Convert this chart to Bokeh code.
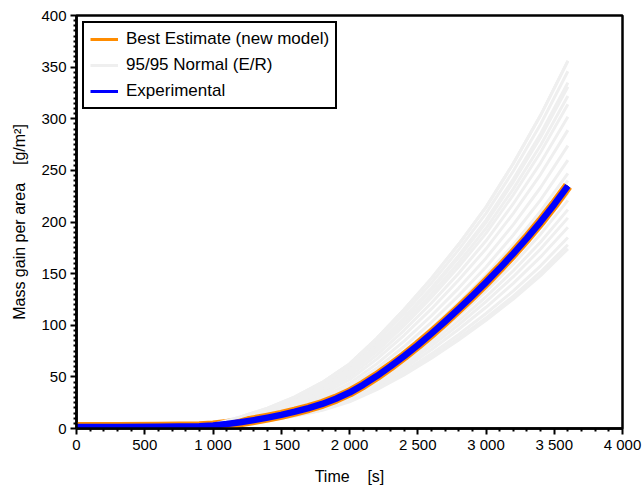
from bokeh.plotting import figure
from bokeh.models import Legend, LegendItem, FixedTicker, Range1d
from bokeh.embed import file_html
from bokeh.resources import INLINE

# ---------------- data ----------------
time_main = [0, 300, 600, 900, 1000, 1100, 1200, 1300, 1400, 1500, 1600, 1700, 1800,
             1900, 2000, 2100, 2200, 2300, 2400, 2500, 2600, 2700, 2800, 2900,
             3000, 3100, 3200, 3300, 3400, 3500, 3600]
best_estimate = [1.5, 1.5, 1.6, 2.2, 3.0, 4.3, 6.0, 8.1, 10.5, 13.2, 16.3, 19.8, 23.8,
                 28.8, 34.8, 42.3, 50.8, 60.1, 70.1, 80.7, 91.9, 103.6, 115.8, 128.4,
                 141.5, 155.1, 169.4, 184.4, 200.2, 217.0, 235.0]
experimental = [1.5, 1.5, 1.6, 2.2, 3.0, 4.3, 6.0, 8.1, 10.5, 13.2, 16.3, 19.8, 23.8,
                28.8, 34.8, 42.3, 50.8, 60.1, 70.1, 80.7, 91.9, 103.6, 115.8, 128.4,
                141.5, 155.1, 169.4, 184.4, 200.2, 217.0, 235.0]

time_runs = [0, 800, 1000, 1200, 1400, 1600, 1800, 2000, 2200, 2400, 2600, 2800,
             3000, 3200, 3400, 3600]
normal_runs = [
    [1.5, 2, 4.0, 11.3, 19.7, 30.6, 44.6, 62.6, 87.4, 115.2, 145.4, 178.4, 214.4, 256.6, 303.3, 356],
    [1.5, 2, 3.9, 10.8, 18.9, 29.4, 42.9, 60.3, 84.4, 111.5, 140.9, 173.2, 208.3, 249.4, 294.7, 346],
    [1.5, 2, 3.9, 10.3, 18.1, 28.1, 41.0, 57.8, 81.1, 107.4, 136.1, 167.6, 201.8, 241.6, 285.5, 335],
    [1.5, 2, 3.8, 10.2, 17.8, 27.6, 40.3, 56.9, 79.9, 105.9, 134.4, 165.5, 199.4, 238.7, 282.1, 331],
    [1.5, 2, 3.7, 9.8, 17.1, 26.6, 38.8, 54.8, 77.1, 102.5, 130.3, 160.8, 193.9, 232.1, 274.3, 322],
    [1.5, 2, 3.7, 9.4, 16.5, 25.6, 37.4, 52.9, 74.7, 99.5, 126.8, 156.7, 189.0, 226.3, 267.5, 314],
    [1.5, 2, 3.6, 8.9, 15.6, 24.2, 35.3, 50.2, 71.1, 95.1, 121.5, 150.4, 181.8, 217.7, 257.3, 302],
    [1.5, 2, 3.5, 8.3, 14.6, 22.7, 33.1, 47.2, 67.2, 90.3, 115.8, 143.8, 174.0, 208.4, 246.2, 289],
    [1.5, 2, 3.3, 7.7, 13.5, 20.9, 30.5, 43.7, 62.6, 84.6, 109.2, 136.0, 165.0, 197.5, 233.4, 274],
    [1.5, 2, 3.2, 7.1, 12.4, 19.2, 28.1, 40.5, 58.3, 79.4, 102.9, 128.7, 156.5, 187.4, 221.4, 260],
    [1.5, 2, 3.1, 6.5, 11.4, 17.7, 25.9, 37.5, 54.4, 74.6, 97.2, 122.0, 148.7, 178.0, 210.4, 247],
    [1.5, 2, 3.0, 6.2, 10.9, 16.9, 24.7, 35.9, 52.3, 71.9, 94.1, 118.3, 144.5, 173.0, 204.4, 240],
    [1.5, 2, 2.9, 5.8, 10.2, 15.8, 23.1, 33.8, 49.3, 68.0, 89.1, 112.3, 137.3, 164.3, 194.2, 228],
    [1.5, 2, 2.8, 5.6, 9.9, 15.3, 22.4, 32.7, 47.8, 65.9, 86.4, 108.9, 133.0, 159.2, 188.2, 221],
    [1.5, 2, 2.7, 5.4, 9.5, 14.7, 21.5, 31.4, 45.8, 63.2, 82.9, 104.5, 127.6, 152.8, 180.6, 212],
    [1.5, 2, 2.6, 5.2, 9.1, 14.1, 20.7, 30.2, 44.1, 60.8, 79.8, 100.5, 122.8, 147.0, 173.8, 204],
    [1.5, 2, 2.5, 5.0, 8.7, 13.5, 19.8, 28.9, 42.2, 58.2, 76.3, 96.1, 117.4, 140.6, 166.2, 195],
    [1.5, 2, 2.4, 4.7, 8.3, 12.8, 18.7, 27.4, 40.0, 55.2, 72.3, 91.1, 111.4, 133.3, 157.6, 185],
    [1.5, 2, 2.3, 4.5, 7.9, 12.3, 18.0, 26.3, 38.5, 53.1, 69.6, 87.7, 107.1, 128.2, 151.6, 178],
    [1.5, 2, 2.2, 4.4, 7.8, 12.1, 17.6, 25.8, 37.6, 51.9, 68.0, 85.7, 104.7, 125.4, 148.1, 174],
]

x_ticks = [0, 500, 1000, 1500, 2000, 2500, 3000, 3500, 4000]
x_tick_labels = ["0", "500", "1 000", "1 500", "2 000", "2 500", "3 000", "3 500", "4 000"]
y_ticks = [0, 50, 100, 150, 200, 250, 300, 350, 400]
y_tick_labels = ["0", "50", "100", "150", "200", "250", "300", "350", "400"]

series_names = ["Best Estimate (new model)", "95/95 Normal (E/R)", "Experimental"]
x_label = "Time\u00a0\u00a0\u00a0\u00a0[s]"
y_label = "Mass gain per area\u00a0\u00a0\u00a0\u00a0[g/m\u00b2]"

# ---------------- figure ----------------
FONT = "Liberation Sans"
ORANGE = "#ff8c00"
BLUE = "#0000ff"
GRAY = "#efefef"

p = figure(width=643, height=490, output_backend="svg", toolbar_location=None,
           x_range=Range1d(0, 4000), y_range=Range1d(0, 400))
p.min_border_left = 76
p.min_border_right = 21
p.min_border_top = 15
p.min_border_bottom = 62
p.background_fill_color = "white"
p.border_fill_color = "white"
p.grid.visible = False
p.outline_line_color = "black"
p.outline_line_width = 2.5
p.outline_line_alpha = 1

for ax, ticks, labels, nminor in ((p.xaxis[0], x_ticks, x_tick_labels, 5),
                                  (p.yaxis[0], y_ticks, y_tick_labels, 10)):
    ax.ticker = FixedTicker(ticks=ticks,
                            minor_ticks=[t0 + (t1 - t0) * k / nminor
                                         for t0, t1 in zip(ticks[:-1], ticks[1:])
                                         for k in range(1, nminor)])
    ax.major_label_overrides = {t: l for t, l in zip(ticks, labels)}
    ax.axis_line_width = 2.5
    ax.axis_line_color = "black"
    ax.major_tick_line_width = 2
    ax.minor_tick_line_width = 2
    ax.major_tick_in = 0
    ax.major_tick_out = 6
    ax.minor_tick_in = 0
    ax.minor_tick_out = 3
    ax.major_label_text_font = FONT
    ax.major_label_text_font_size = "15px"
    ax.major_label_text_color = "black"
    ax.axis_label_text_font = FONT
    ax.axis_label_text_font_size = "16px"
    ax.axis_label_text_font_style = "normal"
    ax.axis_label_text_color = "black"

p.xaxis[0].axis_label = x_label
p.xaxis[0].major_label_standoff = 1
p.xaxis[0].axis_label_standoff = 12
p.yaxis[0].axis_label = y_label
p.yaxis[0].major_label_standoff = 4
p.yaxis[0].axis_label_standoff = 10

# gray ensemble runs
for run in normal_runs:
    p.line(time_runs, run, line_color=GRAY, line_width=3, line_join="round")

# main curves
p.line(time_main, best_estimate, line_color=ORANGE, line_width=10, line_join="round")
r_be = p.line(time_main, best_estimate, line_color=ORANGE, line_width=3)
r_nr = p.line(time_runs, normal_runs[0], line_color=GRAY, line_width=3)
p.line(time_main, experimental, line_color=BLUE, line_width=6.5, line_join="round")
r_ex = p.line(time_main, experimental, line_color=BLUE, line_width=3)

legend = Legend(items=[LegendItem(label=series_names[0], renderers=[r_be]),
                       LegendItem(label=series_names[1], renderers=[r_nr]),
                       LegendItem(label=series_names[2], renderers=[r_ex])],
                location="top_left")
legend.label_text_font = FONT
legend.label_text_font_size = "17px"
legend.label_text_color = "black"
legend.border_line_color = "black"
legend.border_line_width = 2.5
legend.border_line_alpha = 1
legend.background_fill_color = "white"
legend.background_fill_alpha = 1
legend.glyph_width = 28
legend.glyph_height = 20
legend.label_height = 20
legend.spacing = 6
legend.padding = 6
legend.margin = 6
legend.label_standoff = 8
p.add_layout(legend)

open("out.html", "w").write(file_html(p, INLINE))
